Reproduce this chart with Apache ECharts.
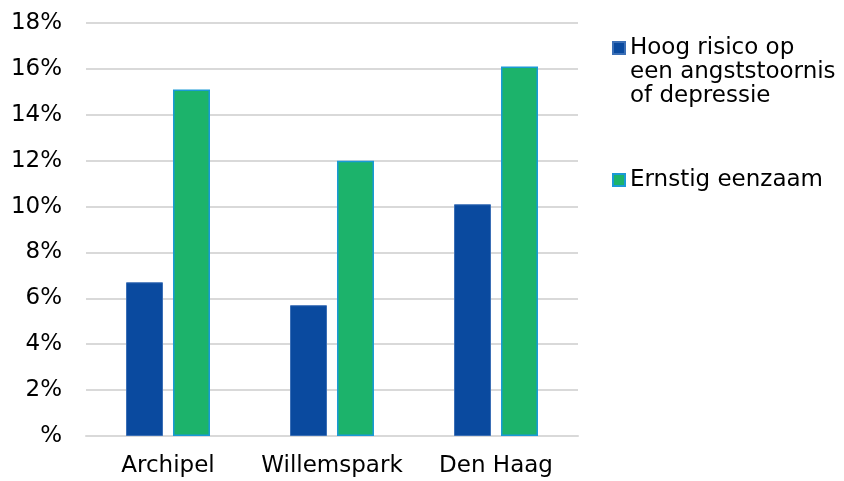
<!DOCTYPE html>
<html>
<head>
<meta charset="utf-8">
<script src="https://cdn.jsdelivr.net/npm/echarts@6/dist/echarts.min.js"></script>
<style>
  html, body { margin: 0; padding: 0; background: #fff; }
  #chart { width: 844px; height: 481px; }
</style>
</head>
<body>
<div id="chart"></div>
<script>
const categories = ['Archipel', 'Willemspark', 'Den Haag']
const seriesNames = ['Hoog risico op een angststoornis of depressie', 'Ernstig eenzaam']
const risicoData = [6.7, 5.7, 10.1]
const eenzaamData = [15.1, 12.0, 16.1]
const yTicks = [0, 2, 4, 6, 8, 10, 12, 14, 16, 18]

const font = 'DejaVu Sans'
const chart = echarts.init(document.getElementById('chart'))

const option = {
  animation: false,
  grid: {
    left: 86,
    right: 266,
    top: 23,
    bottom: 45
  },
  legend: [
    {
      data: [seriesNames[0]],
      left: 612,
      top: -12,
      padding: 0,
      itemWidth: 12,
      itemHeight: 12,
      icon: 'rect',
      // two empty lines on top so the first line sits next to the marker
      formatter: () => ' \n \nHoog risico op\neen angststoornis\nof depressie',
      textStyle: {
        fontFamily: font,
        fontSize: 23,
        color: '#000',
        lineHeight: 24
      }
    },
    {
      data: [seriesNames[1]],
      left: 612,
      top: 168,
      padding: 0,
      itemWidth: 12,
      itemHeight: 12,
      icon: 'rect',
      textStyle: {
        fontFamily: font,
        fontSize: 23,
        color: '#000',
        lineHeight: 24
      }
    }
  ],
  xAxis: {
    type: 'category',
    data: categories,
    axisLine: { lineStyle: { color: '#d9d9d9', width: 2 } },
    axisTick: { show: false },
    axisLabel: {
      interval: 0,
      fontFamily: font,
      fontSize: 23,
      color: '#000',
      margin: 19
    }
  },
  yAxis: {
    type: 'value',
    min: yTicks[0],
    max: yTicks[yTicks.length - 1],
    interval: 2,
    axisLine: { show: false },
    axisTick: { show: false },
    splitLine: { lineStyle: { color: '#d9d9d9', width: 2 } },
    axisLabel: {
      fontFamily: font,
      fontSize: 23,
      color: '#000',
      margin: 24,
      formatter: (v) => v === 0 ? '%' : v + '%'
    }
  },
  series: [
    {
      name: seriesNames[0],
      type: 'bar',
      data: risicoData,
      barWidth: 37,
      barGap: '27%',
      itemStyle: {
        color: '#0a4a9f',
        borderColor: '#3b6fb6',
        borderWidth: 1
      }
    },
    {
      name: seriesNames[1],
      type: 'bar',
      data: eenzaamData,
      barWidth: 37,
      itemStyle: {
        color: '#1cb36b',
        borderColor: '#1a9ad6',
        borderWidth: 1.5
      }
    }
  ]
}

chart.setOption(option)
</script>
</body>
</html>
